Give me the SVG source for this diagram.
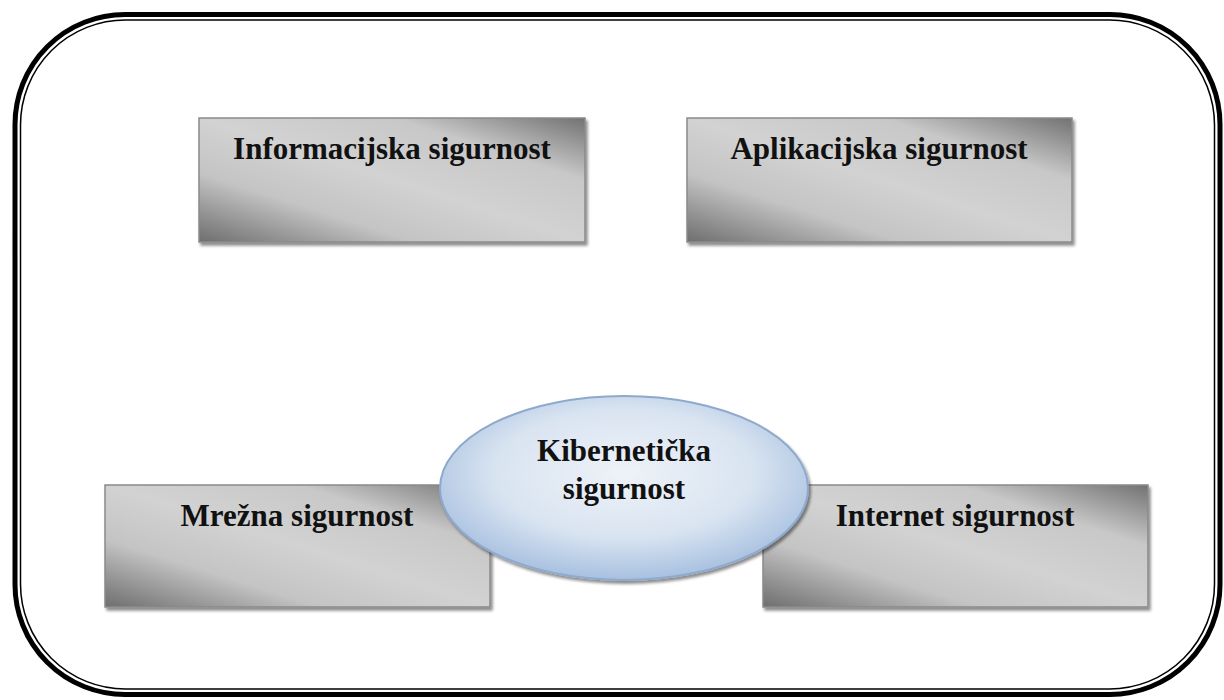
<svg xmlns="http://www.w3.org/2000/svg" width="1224" height="700" viewBox="0 0 1224 700">
<defs>
<linearGradient id="gbox" x1="0" y1="1" x2="1" y2="0">
<stop offset="0" stop-color="#6e6e6e"/>
<stop offset="0.28" stop-color="#c4c4c4"/>
<stop offset="0.5" stop-color="#d2d2d2"/>
<stop offset="0.75" stop-color="#c8c8c8"/>
<stop offset="1" stop-color="#727272"/>
</linearGradient>
<radialGradient id="gell" cx="0.5" cy="0.42" r="0.58">
<stop offset="0" stop-color="#eef2f8"/>
<stop offset="0.6" stop-color="#d9e4f1"/>
<stop offset="1" stop-color="#a7c0e0"/>
</radialGradient>
<filter id="sh" x="-5%" y="-5%" width="112%" height="115%">
<feGaussianBlur in="SourceAlpha" stdDeviation="1.5"/>
<feOffset dx="2" dy="3" result="b"/>
<feComponentTransfer><feFuncA type="linear" slope="0.45"/></feComponentTransfer>
<feMerge><feMergeNode/><feMergeNode in="SourceGraphic"/></feMerge>
</filter>
</defs>
<style>
.box{fill:url(#gbox);stroke:#8a8a8a;stroke-width:1.5;filter:url(#sh)}
.lbl{font-family:"Liberation Serif","Times New Roman",serif;font-weight:bold;font-size:31px;fill:#111;text-anchor:middle}
</style>
<rect width="1224" height="700" fill="#ffffff"/>
<g id="frame" fill="none">
<rect x="15" y="14.5" width="1205" height="680" rx="110" ry="110" stroke="#000" stroke-width="5"/>
<rect x="20.5" y="20" width="1194" height="669" rx="105" ry="105" stroke="#000" stroke-width="1.5"/>
</g>
<g id="informacijska">
<rect class="box" x="199" y="118" width="386" height="124"/>
<text class="lbl" x="392" y="159">Informacijska sigurnost</text>
</g>
<g id="aplikacijska">
<rect class="box" x="687" y="118" width="385" height="124"/>
<text class="lbl" x="879" y="159">Aplikacijska sigurnost</text>
</g>
<g id="mrezna">
<rect class="box" x="105" y="485" width="385" height="122"/>
<text class="lbl" x="297" y="526">Mrežna sigurnost</text>
</g>
<g id="internet">
<rect class="box" x="763" y="485" width="385" height="122"/>
<text class="lbl" x="955" y="526">Internet sigurnost</text>
</g>
<g id="kiberneticka">
<ellipse cx="624" cy="488" rx="184" ry="92" fill="url(#gell)" stroke="#8ea9cc" stroke-width="2" filter="url(#sh)"/>
<text class="lbl" x="624" y="461">Kibernetička</text>
<text class="lbl" x="624" y="499">sigurnost</text>
</g>
<g id="connectors"/>
</svg>
